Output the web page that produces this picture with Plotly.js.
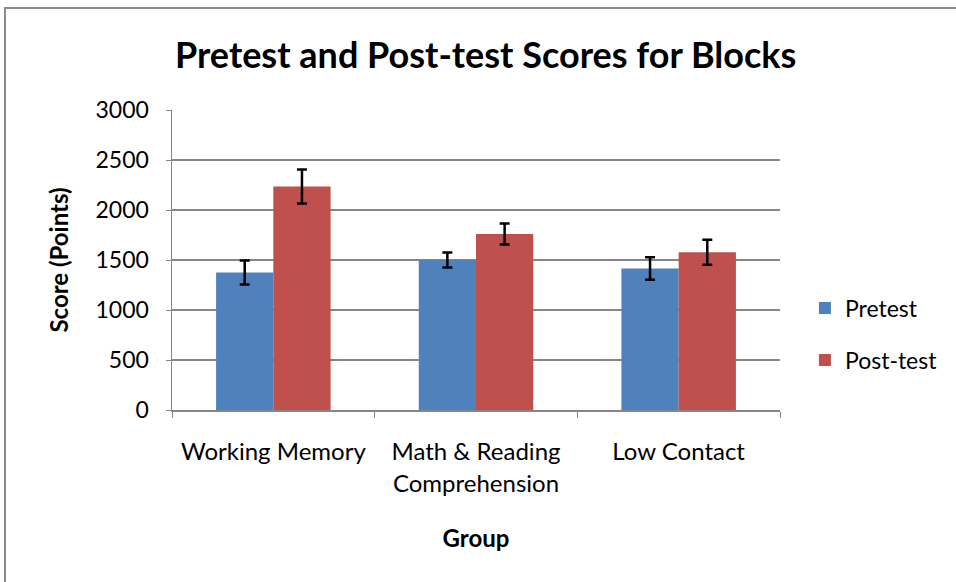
<!DOCTYPE html>
<html><head><meta charset="utf-8">
<script src="https://cdn.plot.ly/plotly-3.0.1.min.js"></script>
<style>
html,body{margin:0;padding:0;background:#fff;}
#wrap{position:relative;width:956px;height:582px;}
#chart{width:956px;height:582px;}
#frame{position:absolute;left:4px;top:7px;width:960px;height:590px;border:2px solid #8c8c8c;pointer-events:none;box-sizing:border-box;}
</style></head>
<body>
<div id="wrap"><div id="chart"></div><div id="frame"></div></div>
<script>
const categories = ["Working Memory", "Math & Reading<br>Comprehension", "Low Contact"];
const pretest = [1375, 1500, 1415];
const pretestErr = [120, 75, 112];
const posttest = [2235, 1760, 1577];
const posttestErr = [170, 105, 125];
const seriesNames = ["Pretest", "Post-test"];
const yTicks = [0, 500, 1000, 1500, 2000, 2500, 3000];

const font = "Lato, 'Open Sans', sans-serif";
const errStyle = {type: "data", visible: true, color: "#000", thickness: 2.5, width: 5};

const traces = [
  {type: "bar", name: seriesNames[0], x: categories, y: pretest, legendgroup: "a",
   marker: {color: "#4f81bd"},
   error_y: Object.assign({array: pretestErr}, errStyle)},
  {type: "bar", name: seriesNames[1], x: categories, y: posttest, legendgroup: "b",
   marker: {color: "#c0504d"},
   error_y: Object.assign({array: posttestErr}, errStyle)}
];

const layout = {
  width: 956, height: 582,
  margin: {l: 172, r: 176, t: 110, b: 172},
  paper_bgcolor: "#fff", plot_bgcolor: "#fff",
  font: {family: font, color: "#000", size: 23},
  title: {text: "<b>Pretest and Post-test Scores for Blocks</b>", x: 0.508, xanchor: "center", y: 0.905, yanchor: "middle",
          font: {family: font, size: 36, color: "#000"}},
  barmode: "group", bargap: 0.435, bargroupgap: 0,
  xaxis: {
    showline: true, linecolor: "#868686", linewidth: 1.5,
    ticks: "outside", tickson: "boundaries", ticklen: 6, tickcolor: "#868686",
    tickfont: {size: 24, family: font}, ticklabelstandoff: 20,
    title: {text: "<b>Group</b>", font: {size: 24, family: font}, standoff: 34},
    automargin: false
  },
  yaxis: {
    range: [0, 3000], tickvals: yTicks, ticktext: yTicks.map(String),
    showline: true, linecolor: "#868686", linewidth: 1.5,
    ticks: "outside", ticklen: 5, tickcolor: "#868686",
    showgrid: true, gridcolor: "#868686", gridwidth: 1.2,
    tickfont: {size: 23, family: font}, ticklabelstandoff: 12,
    title: {text: "<b>Score (Points)</b>", font: {size: 24, family: font}, standoff: 20},
    zeroline: false, automargin: false
  },
  legend: {x: 1.041, xanchor: "left", y: 0.253, yanchor: "middle", traceorder: "grouped",
           font: {size: 23, family: font}, tracegroupgap: 19, itemwidth: 30},
  showlegend: true
};

Plotly.newPlot("chart", traces, layout, {displayModeBar: false, staticPlot: true});
</script>
</body></html>
